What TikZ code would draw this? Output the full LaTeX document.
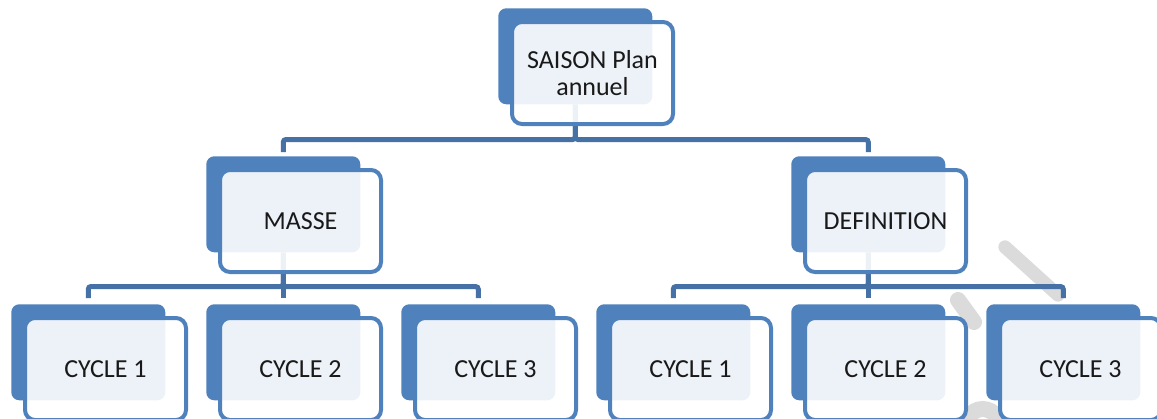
\documentclass[tikz,border=0pt]{standalone}
\usepackage{fontspec}
\setmainfont{Carlito}
\usetikzlibrary{backgrounds}
\definecolor{boxblue}{RGB}{79,129,189}
\definecolor{lineblue}{RGB}{70,113,166}
\definecolor{wmgray}{RGB}{219,219,219}
\tikzset{
  backbox/.style={fill=boxblue, draw=none, rounded corners=6pt, minimum width=115.5pt, minimum height=72pt, inner sep=0pt, anchor=north west},
  frontbox/.style={draw=boxblue, line width=3pt, fill=white, fill opacity=0.9, draw opacity=1, text opacity=1, rounded corners=7.5pt, minimum width=120.75pt, minimum height=76.5pt, inner sep=0pt, align=center, font=\fontsize{19.5pt}{20pt}\selectfont, text=black!90},
  conn/.style={draw=lineblue, line width=3.75pt, rounded corners=2pt},
  wm/.style={draw=wmgray, line cap=round}
}
\newcommand\orgitem[4]{%
  \node[backbox] (#1b) at (#2,#3) {};
  \node[frontbox] (#1) at ({#2+94.5},{#3+65}) {#4};
}
\begin{document}
\begin{tikzpicture}[x=0.75pt,y=-0.75pt]
\useasboundingbox (0,0) rectangle (1157,418);
% items
\orgitem{T}{498}{8}{SAISON Plan\\annuel}
\orgitem{M}{206}{156}{MASSE}
\orgitem{D}{791}{156}{DEFINITION}
\orgitem{A1}{11}{304}{CYCLE 1}
\orgitem{A2}{206}{304}{CYCLE 2}
\orgitem{A3}{401}{304}{CYCLE 3}
\orgitem{B1}{596}{304}{CYCLE 1}
\orgitem{B2}{791}{304}{CYCLE 2}
\orgitem{B3}{986}{304}{CYCLE 3}
\begin{scope}[on background layer]
  % watermark fragments
  \draw[wm, line width=10pt] (1005,247) -- (1058,295);
  \draw[wm, line width=12pt] (958,300) -- (974,322);
  \draw[wm, line width=12pt] (968,418) .. controls (975,406) and (990,406) .. (998,418);
  % connectors
  \draw[conn] (Tb.south) -- ++(0,35) -| ([yshift=3pt]Mb.north);
  \draw[conn] (Tb.south) -- ++(0,35) -| ([yshift=3pt]Db.north);
  \draw[conn] (Mb.south) -- ++(0,34) -| ([yshift=4.5pt]A1b.north);
  \draw[conn] (Mb.south) -- ++(0,34) -| ([yshift=4.5pt]A2b.north);
  \draw[conn] (Mb.south) -- ++(0,34) -| ([yshift=4.5pt]A3b.north);
  \draw[conn] (Db.south) -- ++(0,34) -| ([yshift=4.5pt]B1b.north);
  \draw[conn] (Db.south) -- ++(0,34) -| ([yshift=4.5pt]B2b.north);
  \draw[conn] (Db.south) -- ++(0,34) -| ([yshift=4.5pt]B3b.north);
\end{scope}
\end{tikzpicture}
\end{document}
